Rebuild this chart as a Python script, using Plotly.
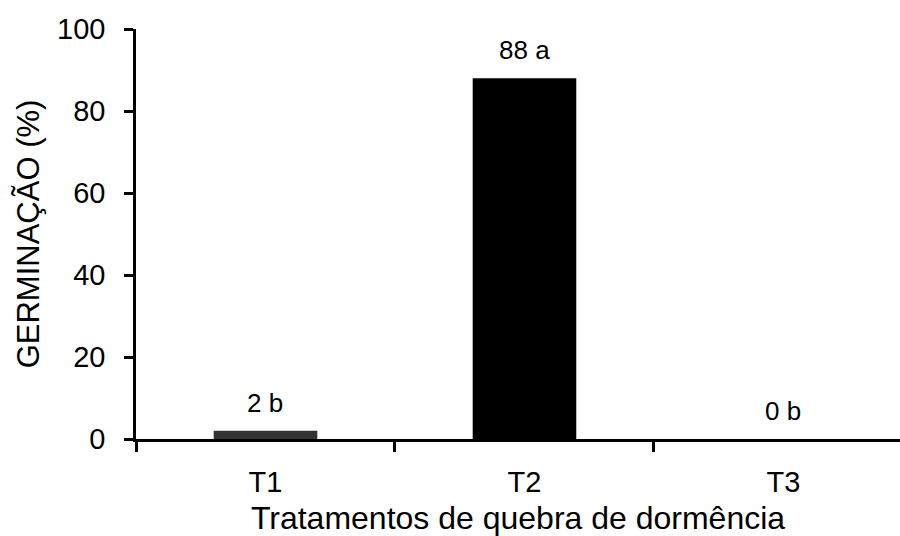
import plotly.graph_objects as go

categories = ["T1", "T2", "T3"]
germination = [2, 88, 0]
labels = ["2 b", "88 a", "0 b"]
bar_colors = ["#333333", "#000000", "#000000"]
y_ticks = [0, 20, 40, 60, 80, 100]

FONT = "Liberation Sans, Arial, sans-serif"

fig = go.Figure()
fig.add_trace(go.Bar(
    x=categories, y=germination,
    marker=dict(color=bar_colors, line=dict(width=0)),
    width=0.4,
    showlegend=False,
))

for c, v, t in zip(categories, germination, labels):
    fig.add_annotation(x=c, y=v, text=t, showarrow=False,
                       yanchor="bottom", yshift=11,
                       font=dict(family=FONT, size=26, color="black"))

fig.update_layout(
    width=900, height=536,
    margin=dict(l=136, r=0, t=29, b=97),
    paper_bgcolor="white", plot_bgcolor="white",
    font=dict(family=FONT, color="black"),
)
fig.update_xaxes(
    range=[-0.5, 2.45],
    showline=True, linecolor="black", linewidth=2.5,
    ticks="outside", tickson="boundaries", ticklen=10, tickwidth=2.5, tickcolor="black",
    tickfont=dict(size=29, family=FONT),
    ticklabelstandoff=15,
    title=dict(text="Tratamentos de quebra de dormência", font=dict(size=32, family=FONT), standoff=15),
    showgrid=False, zeroline=False,
)
fig.update_yaxes(
    range=[0, 100], tickvals=y_ticks,
    showline=True, linecolor="black", linewidth=2.5,
    ticks="outside", ticklen=9, tickwidth=2.5, tickcolor="black",
    tickfont=dict(size=29, family=FONT),
    ticklabelstandoff=13,
    title=dict(text="GERMINAÇÃO (%)", font=dict(size=31, family=FONT), standoff=9),
    showgrid=False, zeroline=False,
)

fig.write_html("out.html", config={"displayModeBar": False},
               post_script="document.body.style.margin='0';document.body.style.overflow='hidden';")
